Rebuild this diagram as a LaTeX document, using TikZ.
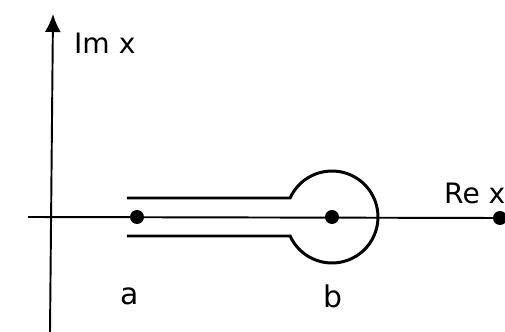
\documentclass[tikz,border=0pt]{standalone}
\usepackage{fontspec}
\setmainfont{DejaVu Sans}
\usepackage{tikz}
\usetikzlibrary{arrows.meta,calc}

\begin{document}
\begin{tikzpicture}[x=0.02cm,y=0.02cm]
    \def\r{46}
    \def\h{19}
    \useasboundingbox (0,0) rectangle (505,332);
    \coordinate (o1) at (28, 115);
    \coordinate (o2) at (500, 114);
    \coordinate (y1) at (50, 0);
    \coordinate (y2) at (53, 318);
    \coordinate (a) at (137, 115);
    \coordinate (b) at (332, 115);
    \coordinate (u1) at (127, 115+\h);
    \coordinate (l1) at (127, 115-\h);
    \draw[line width=1.1pt] (o1) -- (o2);
    \draw[line width=1.1pt,-{Latex[length=0.36cm,width=0.32cm]}] (y1) -- (y2);
    % keyhole contour round the cut from a to b
    \draw[line width=1.7pt] (u1) -- ($(b)+(155.6:\r)$)
        arc[start angle=155.6, end angle=-155.6, radius=\r*0.02cm] -- (l1);
    \fill (a) circle(0.14cm);
    \fill (b) circle(0.14cm);
    \fill (o2) circle(0.14cm);
    \node[anchor=west,font=\fontsize{16}{18}\selectfont] (im) at (68, 289) {Im x};
    \node[anchor=west,font=\fontsize{16}{18}\selectfont] (re) at (438, 139) {Re x};
    \node[font=\fontsize{17}{18}\selectfont] (la) at (130, 36) {a};
    \node[font=\fontsize{17}{18}\selectfont] (lb) at (333, 36) {b};
\end{tikzpicture}
\end{document}
